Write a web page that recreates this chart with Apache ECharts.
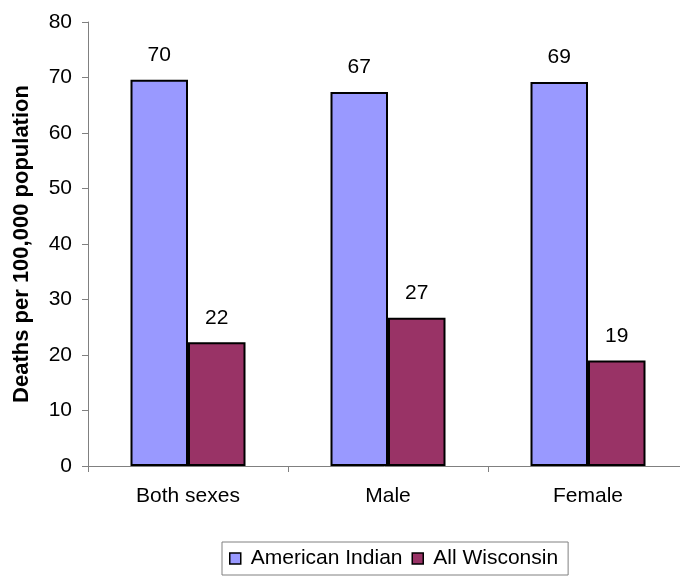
<!DOCTYPE html>
<html>
<head>
<meta charset="utf-8">
<script src="https://cdn.jsdelivr.net/npm/echarts@6/dist/echarts.min.js"></script>
<style>
  html, body { margin: 0; padding: 0; background: #fff; }
  #chart { width: 680px; height: 580px; }
</style>
</head>
<body>
<div id="chart"></div>
<script>
// Death rates per 100,000 population by sex
const categories = ['Both sexes', 'Male', 'Female'];
const americanIndian = [69.6, 67.4, 69.2];
const allWisconsin = [22.3, 26.7, 19.0];
const seriesNames = ['American Indian', 'All Wisconsin'];
const yTicks = { min: 0, max: 80, interval: 10 };

const FONT = "'Liberation Sans', Arial, sans-serif";

const chart = echarts.init(document.getElementById('chart'), null, { renderer: 'canvas' });

const labelStyle = {
  show: true,
  position: 'top',
  distance: 14,
  color: '#000',
  fontFamily: FONT,
  fontSize: 21,
  formatter: p => String(Math.round(p.value))
};

chart.setOption({
  animation: false,
  backgroundColor: '#fff',
  textStyle: { fontFamily: FONT },
  // the plot runs slightly past the right edge of the canvas
  grid: { left: 88, width: 600, top: 22, bottom: 114, containLabel: false, outerBoundsMode: 'none' },
  legend: {
    data: seriesNames,
    left: 222,
    top: 542,
    orient: 'horizontal',
    icon: 'rect',
    itemWidth: 11,
    itemHeight: 11,
    itemGap: 9,
    padding: [6, 10, 6, 7],
    borderColor: '#808080',
    borderWidth: 1,
    textStyle: { fontFamily: FONT, fontSize: 21, color: '#000', padding: [0, 0, 0, 5] },
    itemStyle: { borderColor: '#000', borderWidth: 1.5 }
  },
  xAxis: {
    type: 'category',
    data: categories,
    axisLine: { lineStyle: { color: '#808080', width: 1 } },
    axisTick: { show: true, alignWithLabel: false, length: 6, lineStyle: { color: '#808080' } },
    axisLabel: { color: '#000', fontFamily: FONT, fontSize: 21, margin: 20 },
    splitLine: { show: false }
  },
  yAxis: {
    type: 'value',
    min: yTicks.min,
    max: yTicks.max,
    interval: yTicks.interval,
    name: 'Deaths per 100,000 population',
    nameLocation: 'middle',
    nameGap: 55,
    nameTextStyle: { color: '#000', fontFamily: FONT, fontSize: 22, fontWeight: 'bold' },
    axisLine: { show: true, lineStyle: { color: '#808080', width: 1 } },
    axisTick: { show: true, length: 6, lineStyle: { color: '#808080' } },
    axisLabel: { color: '#000', fontFamily: FONT, fontSize: 21, margin: 16 },
    splitLine: { show: false }
  },
  series: [
    {
      name: seriesNames[0],
      type: 'bar',
      data: americanIndian,
      barGap: '0%',
      barCategoryGap: '42.5%',
      itemStyle: { color: '#9999FF', borderColor: '#000', borderWidth: 2 },
      label: labelStyle
    },
    {
      name: seriesNames[1],
      type: 'bar',
      data: allWisconsin,
      barGap: '0%',
      barCategoryGap: '42.5%',
      itemStyle: { color: '#993366', borderColor: '#000', borderWidth: 2 },
      label: labelStyle
    }
  ]
});
</script>
</body>
</html>
